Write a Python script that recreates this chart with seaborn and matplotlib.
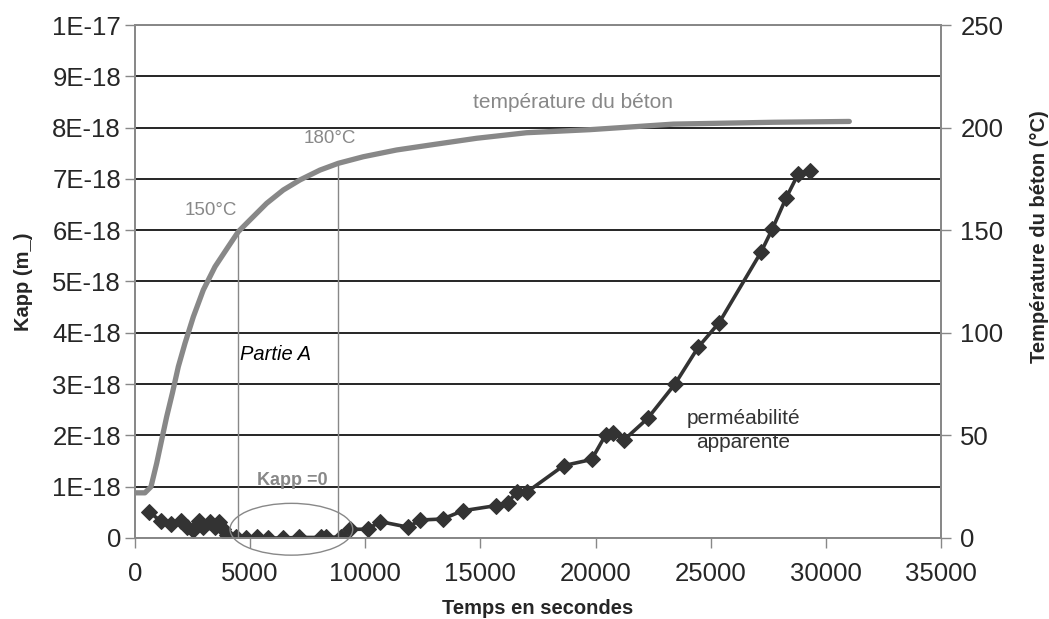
import numpy as np
import pandas as pd
import matplotlib
matplotlib.use("Agg")
from matplotlib import pyplot as plt
from matplotlib.patches import Ellipse
import seaborn as sns

# permeabilite apparente, Kapp en 1E-18 m2
temps_kapp = [608, 1115, 1550, 1984, 2272, 2533, 2779, 2967, 3257, 3474, 3662, 3836,
              3980, 4386, 4820, 5283, 5790, 6413, 7134, 8076, 8293, 8945, 9336, 10104,
              10638, 11867, 12375, 13360, 14229, 15662, 16182, 16573, 17007, 18610,
              19830, 20438, 20742, 21233, 22262, 23448, 24460, 25372, 27183, 27674,
              28267, 28803, 29310]
kapp = [0.51, 0.33, 0.27, 0.33, 0.21, 0.16, 0.33, 0.22, 0.32, 0.21, 0.32, 0.17,
        0.06, 0.01, 0.0, 0.01, 0.0, 0.0, 0.01, 0.01, 0.01, 0.02, 0.17, 0.17,
        0.32, 0.21, 0.35, 0.37, 0.53, 0.63, 0.69, 0.89, 0.89, 1.41,
        1.53, 2.01, 2.05, 1.91, 2.33, 3.0, 3.72, 4.2, 5.57, 6.02,
        6.62, 7.1, 7.16]

# temperature du beton (°C)
temps_temp = [0, 430, 695, 941, 1158, 1375, 1621, 1881, 2171, 2533, 2967, 3474, 4052,
              4487, 4993, 5717, 6441, 7165, 8033, 8828, 9913, 11364, 12810, 14837,
              17000, 19760, 23380, 27720, 31020]
temperature = [22, 22, 25, 36.4, 47.8, 59.1, 70.5, 83.5, 94.9, 107.8, 120.9, 132.2, 142,
               149.3, 155, 163.1, 169.6, 174.5, 179.3, 182.6, 185.8, 189.1, 191.5, 194.8,
               197.5, 199, 201.7, 202.6, 203]

# temps des reperes 150°C et 180°C
temps_reperes = [4490, 8830]

x_ticks = [0, 5000, 10000, 15000, 20000, 25000, 30000, 35000]
kapp_ticks = [0, 1, 2, 3, 4, 5, 6, 7, 8, 9, 10]
kapp_labels = ["0", "1E-18", "2E-18", "3E-18", "4E-18", "5E-18", "6E-18",
               "7E-18", "8E-18", "9E-18", "1E-17"]
temp_ticks = [0, 50, 100, 150, 200, 250]

df_k = pd.DataFrame({"temps": temps_kapp, "kapp": np.array(kapp) * 1e-18})
df_t = pd.DataFrame({"temps": temps_temp, "temp": temperature})

sns.set_style("white")
plt.rcParams['font.family'] = ['Liberation Sans', 'DejaVu Sans']

gris = "#888888"
fig, ax = plt.subplots(figsize=(10.49, 6.19), dpi=100)
fig.subplots_adjust(left=0.1287, right=0.897, bottom=0.1309, top=0.9596)
ax2 = ax.twinx()

sns.lineplot(data=df_k, x="temps", y="kapp", ax=ax, color="#333333", lw=2.6,
             marker="D", markersize=8.5, markeredgecolor="#333333", zorder=3)
sns.lineplot(data=df_t, x="temps", y="temp", ax=ax2, color=gris, lw=3.8)

ax.set_xlim(0, 35000)
ax.set_ylim(0, 1e-17)
ax2.set_ylim(0, 250)
ax.set_xticks(x_ticks)
ax.set_yticks(np.array(kapp_ticks) * 1e-18)
ax.set_yticklabels(kapp_labels)
ax2.set_yticks(temp_ticks)

ax.yaxis.grid(True, color="black", lw=1.2)
ax.xaxis.grid(False)
ax.set_axisbelow(True)

for a in (ax, ax2):
    for s in a.spines.values():
        s.set_color(gris)
        s.set_linewidth(1.3)
ax.tick_params(axis="both", direction="out", length=7, width=1, color=gris,
               labelsize=18.5, left=True, bottom=True)
ax.tick_params(axis="y", pad=3)
ax.tick_params(axis="x", pad=10)
ax2.tick_params(axis="y", direction="out", length=7, width=1, color=gris,
                labelsize=18.5, right=True, pad=7)

ax.set_xlabel("Temps en secondes", fontsize=14.5, fontweight="bold", labelpad=10)
ax.set_ylabel("Kapp (m_)", fontsize=14.5, fontweight="bold")
ax.yaxis.set_label_coords(-0.127, 0.5)
ax2.set_ylabel("Température du béton (°C)", fontsize=14.5, fontweight="bold")
ax2.yaxis.set_label_coords(1.110, 0.587)

# reperes verticaux jusqu'a la courbe de temperature
haut = np.interp(temps_reperes, temps_temp, temperature)
ax2.vlines(temps_reperes, 0, haut, color=gris, lw=1)

ax.text(19000, 8.48e-18, "température du béton", color=gris, fontsize=15,
        ha="center", va="center")
ax.text(8470, 7.78e-18, "180°C", color=gris, fontsize=13.5, ha="center", va="center")
ax.text(3290, 6.38e-18, "150°C", color=gris, fontsize=13.5, ha="center", va="center")
ax.text(6110, 3.57e-18, "Partie A", color="black", fontsize=14.5, style="italic",
        ha="center", va="center")
ax.text(6830, 1.13e-18, "Kapp =0", color=gris, fontsize=13, fontweight="bold",
        ha="center", va="center")
ax.text(26410, 2.1e-18, "perméabilité\napparente", color="#333333", fontsize=15,
        ha="center", va="center", linespacing=1.3)

ax.add_patch(Ellipse((6790, 0.17e-18), 5330, 1.01e-18, fill=False,
                     edgecolor=gris, lw=1, clip_on=False, zorder=4))

fig.savefig("out.png", dpi=100)
